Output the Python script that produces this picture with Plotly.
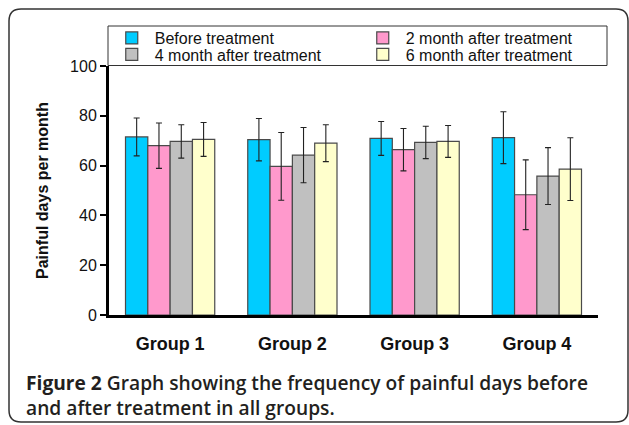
import plotly.graph_objects as go

# ---- data ----
groups = ["Group 1", "Group 2", "Group 3", "Group 4"]
series_names = ["Before treatment", "2 month after treatment",
                "4 month after treatment", "6 month after treatment"]
before_vals = [71.5, 70.4, 70.9, 71.2]
m2_vals = [68.0, 59.7, 66.4, 48.3]
m4_vals = [69.7, 64.2, 69.3, 55.8]
m6_vals = [70.5, 69.0, 69.7, 58.6]
before_err = [7.6, 8.5, 6.8, 10.4]
m2_err = [9.1, 13.6, 8.5, 14.0]
m4_err = [6.7, 11.1, 6.5, 11.4]
m6_err = [6.8, 7.4, 6.4, 12.6]
y_ticks = [0, 20, 40, 60, 80, 100]

colors = ["#00CCFF", "#FF99CC", "#C0C0C0", "#FFFFCC"]
values = [before_vals, m2_vals, m4_vals, m6_vals]
errors = [before_err, m2_err, m4_err, m6_err]
legends = ["legend", "legend", "legend2", "legend2"]

W, H = 629, 425
L, R, T, B = 109, 31, 66, 110
PW, PH = W - L - R, H - T - B


def px(x):
    return (x - L) / PW


def py(y):
    return (H - B - y) / PH


fig = go.Figure()
for name, vals, errs, col, lg in zip(series_names, values, errors, colors, legends):
    fig.add_trace(go.Bar(
        x=groups, y=vals, name=name, legend=lg,
        marker=dict(color=col, line=dict(color="#4a4a4a", width=1.2)),
        error_y=dict(type="data", array=errs, visible=True,
                     color="#222222", thickness=1.1, width=3),
    ))

arial = "Liberation Sans, Arial, sans-serif"

leg_common = dict(orientation="h", xanchor="left", yanchor="middle",
                  bgcolor="rgba(0,0,0,0)", borderwidth=0,
                  font=dict(family=arial, size=16, color="#111111"),
                  itemwidth=36, entrywidth=200, entrywidthmode="pixels",
                  itemclick=False, itemdoubleclick=False)

fig.update_layout(
    width=W, height=H,
    margin=dict(l=L, r=R, t=T, b=B),
    paper_bgcolor="white", plot_bgcolor="white",
    barmode="group", bargap=0.27, bargroupgap=0,
    showlegend=True,
    legend=dict(x=-0.0005, y=py(38), **leg_common),
    legend2=dict(x=-0.0005, y=py(54.5), **leg_common),
    xaxis=dict(
        showline=True, linecolor="#000000", linewidth=3,
        ticks="", showgrid=False, zeroline=False,
        tickfont=dict(family=arial, size=18, color="#111111", weight="bold"),
        ticklabelstandoff=10,
    ),
    yaxis=dict(
        range=[0, 100], tickvals=y_ticks,
        showline=True, linecolor="#000000", linewidth=3,
        ticks="outside", ticklen=6, tickwidth=2, tickcolor="#000000",
        showgrid=False, zeroline=False,
        tickfont=dict(family=arial, size=16, color="#111111"),
        title=dict(text="<b>Painful days per month</b>",
                   font=dict(family=arial, size=16, color="#111111"),
                   standoff=18),
    ),
)

# legend box
fig.add_shape(type="rect", xref="paper", yref="paper",
              x0=px(108), x1=px(607), y0=py(26), y1=py(65.5),
              line=dict(color="#333333", width=1), layer="above")

# outer rounded frame
x0, x1, y0, y1, r = 9, 628, 9, 422, 12
path = (f"M {px(x0 + r)},{py(y0)} L {px(x1 - r)},{py(y0)} "
        f"Q {px(x1)},{py(y0)} {px(x1)},{py(y0 + r)} "
        f"L {px(x1)},{py(y1 - r)} Q {px(x1)},{py(y1)} {px(x1 - r)},{py(y1)} "
        f"L {px(x0 + r)},{py(y1)} Q {px(x0)},{py(y1)} {px(x0)},{py(y1 - r)} "
        f"L {px(x0)},{py(y0 + r)} Q {px(x0)},{py(y0)} {px(x0 + r)},{py(y0)} Z")
fig.add_shape(type="path", xref="paper", yref="paper", path=path,
              line=dict(color="#333333", width=1.5))

cap_font = dict(family="Open Sans, Noto Sans, sans-serif", size=19.2,
                color="#231f20", weight=600)
fig.add_annotation(xref="paper", yref="paper", x=px(24), y=py(382),
                   xanchor="left", yanchor="middle", showarrow=False,
                   text="<b>Figure 2</b> Graph showing the frequency of painful days before",
                   font=cap_font)
fig.add_annotation(xref="paper", yref="paper", x=px(24), y=py(407),
                   xanchor="left", yanchor="middle", showarrow=False,
                   text="and after treatment in all groups.",
                   font=cap_font)

fig.write_html("out.html",
               config={"displayModeBar": False},
               post_script="document.body.style.margin='0';")
